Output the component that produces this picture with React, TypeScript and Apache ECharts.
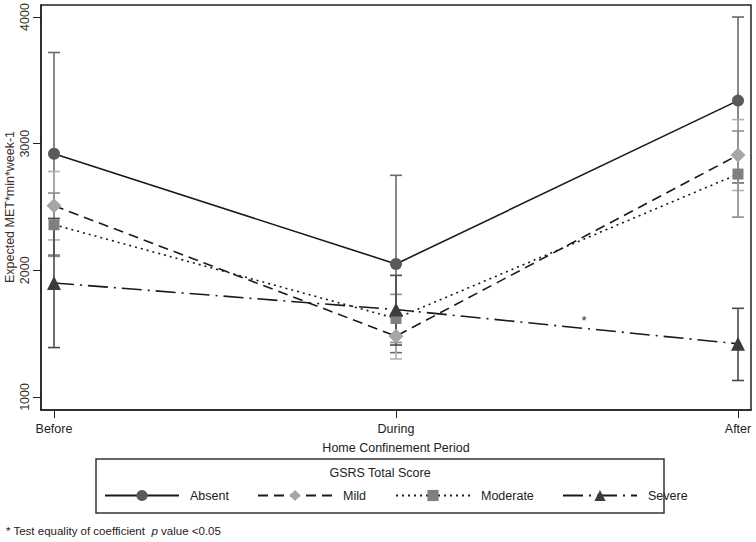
import React, { useEffect, useRef } from "react";
import * as echarts from "echarts";

const periods = ["Before", "During", "After"];
const groups = ["Absent", "Mild", "Moderate", "Severe"];
const absent = [2920, 2050, 3340];
const absentLo = [2120, 1350, 2690];
const absentHi = [3720, 2750, 4000];
const mild = [2510, 1480, 2910];
const mildLo = [2240, 1300, 2630];
const mildHi = [2780, 1660, 3190];
const moderate = [2360, 1620, 2760];
const moderateLo = [2110, 1430, 2420];
const moderateHi = [2610, 1810, 3100];
const severe = [1900, 1690, 1420];
const severeLo = [1390, 1410, 1130];
const severeHi = [2410, 1960, 1700];
const yTicks = [1000, 2000, 3000, 4000];
const starPos = [1.55, 1600];

const FONT = "Liberation Sans, Arial, sans-serif";

export default function App() {
  const ref = useRef<HTMLDivElement>(null);
  useEffect(() => {
    const chart = echarts.init(ref.current!, null, { renderer: "svg" });
    const vals = [absent, mild, moderate, severe];
    const los = [absentLo, mildLo, moderateLo, severeLo];
    const his = [absentHi, mildHi, moderateHi, severeHi];
    const markerColors = ["#5a5a5a", "#a6a6a6", "#7f7f7f", "#3c3c3c"];
    const barColors = ["#6a6a6a", "#b0b0b0", "#8c8c8c", "#4a4a4a"];
    const symbols = ["circle", "diamond", "rect", "triangle"];
    const symbolSizes = [12, 15, 11, 14];
    const lineTypes: any[] = ["solid", [10, 6], [2, 4], [20, 6, 2, 6]];

    const errSeries = groups.map((g, gi) => ({
      type: "custom",
      name: g + " CI",
      silent: true,
      z: 1,
      data: periods.map((_, i) => [i, los[gi][i], his[gi][i]]),
      encode: { x: 0, y: [1, 2] },
      renderItem: (params: any, api: any) => {
        const x = api.value(0);
        const lo = api.coord([x, api.value(1)]);
        const hi = api.coord([x, api.value(2)]);
        const hw = 6;
        const style = { stroke: barColors[gi], lineWidth: 1.6 };
        return {
          type: "group",
          children: [
            { type: "line", shape: { x1: lo[0], y1: lo[1], x2: hi[0], y2: hi[1] }, style },
            { type: "line", shape: { x1: lo[0] - hw, y1: lo[1], x2: lo[0] + hw, y2: lo[1] }, style },
            { type: "line", shape: { x1: hi[0] - hw, y1: hi[1], x2: hi[0] + hw, y2: hi[1] }, style },
          ],
        };
      },
    }));

    const lineSeries = groups.map((g, gi) => ({
      type: "line",
      name: g,
      z: 3,
      data: periods.map((_, i) => [i, vals[gi][i]]),
      symbol: symbols[gi],
      symbolSize: symbolSizes[gi],
      itemStyle: { color: markerColors[gi], borderWidth: 0 },
      lineStyle: { color: "#1a1a1a", width: 1.6, type: lineTypes[gi] },
    }));

    const starSeries = {
      type: "custom",
      name: "star",
      silent: true,
      z: 4,
      data: [starPos],
      encode: { x: 0, y: 1 },
      renderItem: (params: any, api: any) => {
        const p = api.coord([api.value(0), api.value(1)]);
        return {
          type: "text",
          x: p[0],
          y: p[1],
          style: {
            text: "*",
            fill: "#333",
            font: "13px " + FONT,
            textAlign: "center",
            textVerticalAlign: "middle",
          },
        };
      },
    };

    const legendPos = [104, 257, 395, 562];
    const legends = groups.map((g, gi) => ({
      data: [g],
      left: legendPos[gi],
      top: 489,
      itemWidth: 74,
      itemHeight: 14,
      itemGap: 0,
      padding: 0,
      selectedMode: false,
      textStyle: { fontSize: 12.5, fontFamily: FONT, color: "#222", padding: [0, 0, 0, 6] },
    }));

    chart.setOption({
      animation: false,
      backgroundColor: "#fff",
      grid: {
        left: 41,
        right: 5,
        top: 5,
        bottom: 132,
        containLabel: false,
        outerBoundsMode: "none",
        show: true,
        borderColor: "#222",
        borderWidth: 1.5,
      },
      xAxis: {
        type: "value",
        min: -0.038,
        max: 2.038,
        name: "Home Confinement Period",
        nameLocation: "middle",
        nameGap: 31,
        nameTextStyle: { fontSize: 12.5, fontFamily: FONT, color: "#222" },
        axisLine: { show: true, onZero: false, lineStyle: { color: "#222", width: 1.5 } },
        axisTick: { show: true, customValues: [0, 1, 2], length: 8, lineStyle: { color: "#222" } },
        axisLabel: {
          customValues: [0, 1, 2],
          formatter: (v: number) => periods[Math.round(v)],
          margin: 12,
          fontSize: 12.5,
          fontFamily: FONT,
          color: "#222",
        },
        splitLine: { show: false },
      },
      yAxis: {
        type: "value",
        min: 897,
        max: 4095,
        axisLine: { show: true, onZero: false, lineStyle: { color: "#222", width: 1.5 } },
        axisTick: { show: true, customValues: yTicks, length: 8, lineStyle: { color: "#222" } },
        axisLabel: {
          customValues: yTicks,
          formatter: (v: number) => String(v),
          rotate: 90,
          margin: 10,
          fontSize: 12.5,
          fontFamily: FONT,
          color: "#3a3028",
        },
        splitLine: { show: false },
      },
      legend: legends,
      graphic: [
        {
          type: "text",
          x: 10,
          y: 207,
          rotation: Math.PI / 2,
          style: {
            text: "Expected MET*min*week-1",
            fill: "#3a3028",
            font: "12.5px " + FONT,
            textAlign: "center",
            textVerticalAlign: "middle",
          },
        },
        {
          type: "rect",
          shape: { x: 96, y: 459, width: 568, height: 54 },
          style: { fill: "none", stroke: "#333", lineWidth: 1.5 },
        },
        {
          type: "text",
          x: 380,
          y: 473,
          style: {
            text: "GSRS Total Score",
            fill: "#222",
            font: "12.5px " + FONT,
            textAlign: "center",
            textVerticalAlign: "middle",
          },
        },
        {
          type: "text",
          x: 6,
          y: 531,
          style: {
            text: "* Test equality of coefficient  {i|p} value <0.05",
            fill: "#222",
            font: "11.5px " + FONT,
            textVerticalAlign: "middle",
            rich: { i: { fontStyle: "italic", fontSize: 11.5, fontFamily: FONT, fill: "#222" } },
          },
        },
      ],
      series: [...errSeries, ...lineSeries, starSeries],
    });
    return () => chart.dispose();
  }, []);
  return <div ref={ref} style={{ width: 756, height: 542, position: "absolute", left: 0, top: 0 }} />;
}
